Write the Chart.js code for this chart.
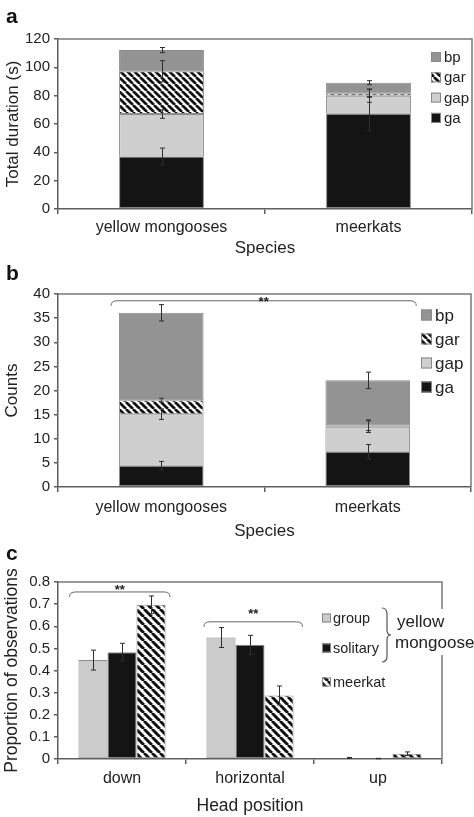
<!DOCTYPE html>
<html><head><meta charset="utf-8">
<script src="https://cdn.jsdelivr.net/npm/chart.js@4.4.1/dist/chart.umd.min.js"></script>
<style>
html,body{margin:0;padding:0;background:#fff;width:474px;height:817px;overflow:hidden}
canvas{position:absolute;left:0}
</style></head><body>
<canvas id="ca" width="474" height="262" style="top:0px"></canvas>
<canvas id="cb" width="474" height="283" style="top:262px"></canvas>
<canvas id="cc" width="474" height="272" style="top:545px"></canvas>
<script>
// ---------- data ----------
const species = ['yellow mongooses', 'meerkats'];
const seriesNames = ['ga', 'gap', 'gar', 'bp'];

// panel a: total duration (s)
const durGa  = [37.0, 67.3];
const durGap = [30.0, 12.7];
const durGar = [30.2, 1.7];
const durBp  = [15.0, 7.5];
const durGaErr  = [6.0, 12.0];
const durGapErr = [3.0, 4.7];
const durGarErr = [7.5, 2.8];
const durBpErr  = [1.8, 1.4];
const durTicks = [0, 20, 40, 60, 80, 100, 120];

// panel b: counts
const cntGa  = [4.4, 7.3];
const cntGap = [10.7, 5.2];
const cntGar = [2.9, 0.3];
const cntBp  = [18.1, 9.3];
const cntGaErr  = [0.9, 1.5];
const cntGapErr = [1.1, 1.2];
const cntGarErr = [0.4, 1.1];
const cntBpErr  = [1.7, 1.7];
const cntTicks = [0, 5, 10, 15, 20, 25, 30, 35, 40];

// panel c: proportion of observations
const headPos = ['down', 'horizontal', 'up'];
const groupNames = ['group', 'solitary', 'meerkat'];
const propGroup    = [0.447, 0.549, 0.005];
const propSolitary = [0.483, 0.516, 0.002];
const propMeerkat  = [0.697, 0.287, 0.024];
const propGroupErr    = [0.045, 0.045, 0.002];
const propSolitaryErr = [0.040, 0.043, 0.001];
const propMeerkatErr  = [0.040, 0.043, 0.008];
const propTicks = [0, 0.1, 0.2, 0.3, 0.4, 0.5, 0.6, 0.7, 0.8];

// ---------- styling ----------
const FONT = "'Liberation Sans', Arial, Helvetica, sans-serif";
Chart.defaults.font.family = FONT;
Chart.defaults.color = '#222';
const AX = '#5e5e5e';
const C_BP = '#939393', C_GAP = '#cfcfcf', C_GA = '#141414';

function hatch(s, lw) {
  const c = document.createElement('canvas');
  c.width = c.height = s;
  const g = c.getContext('2d');
  g.fillStyle = '#fff'; g.fillRect(0, 0, s, s);
  g.strokeStyle = '#111'; g.lineWidth = lw;
  g.beginPath();
  for (let k = -1; k <= 1; k++) { g.moveTo(k * s, 0); g.lineTo(k * s + s, s); }
  g.stroke();
  return c.getContext('2d').createPattern(c, 'repeat');
}
const HATCH = hatch(7, 2.7);
const HATCH_C = hatch(8, 3.0);

function errorBars(errs) {
  return { id: 'eb', afterDatasetsDraw(chart) {
    const ctx = chart.ctx, y = chart.scales.y;
    ctx.save(); ctx.strokeStyle = '#2e2e2e'; ctx.lineWidth = 1;
    errs.forEach((arr, di) => {
      const meta = chart.getDatasetMeta(di);
      meta.data.forEach((bar, j) => {
        const e = arr[j]; if (!e) return;
        const dp = y.getPixelForValue(0) - y.getPixelForValue(e);
        const x = Math.round(bar.x) + 0.5, t = bar.y - dp, b = bar.y + dp;
        ctx.beginPath();
        ctx.moveTo(x, t); ctx.lineTo(x, b);
        ctx.moveTo(x - 2.5, t); ctx.lineTo(x + 2.5, t);
        ctx.moveTo(x - 2.5, b); ctx.lineTo(x + 2.5, b);
        ctx.stroke();
      });
    });
    ctx.restore();
  }};
}

const frame = { id: 'frame', beforeDatasetsDraw(chart) {
  const { ctx, chartArea: a } = chart;
  ctx.save(); ctx.strokeStyle = '#7a7a7a'; ctx.lineWidth = 1.5;
  ctx.beginPath(); ctx.moveTo(a.left, a.top); ctx.lineTo(a.right, a.top); ctx.lineTo(a.right, a.bottom); ctx.stroke();
  ctx.restore();
}};

function panelLabel(txt, x, y) {
  return { id: 'pl', afterDraw(chart) {
    const ctx = chart.ctx; ctx.save();
    ctx.font = 'bold 21px ' + FONT; ctx.fillStyle = '#111'; ctx.textBaseline = 'alphabetic';
    ctx.fillText(txt, x, y); ctx.restore();
  }};
}

function bracket(ctx, x1, x2, y) {
  ctx.beginPath();
  ctx.moveTo(x1, y + 5);
  ctx.quadraticCurveTo(x1, y, x1 + 6, y);
  ctx.lineTo(x2 - 6, y);
  ctx.quadraticCurveTo(x2, y, x2, y + 5);
  ctx.stroke();
}

function legendBox(ctx, x, yc, size, fill, label, fontSize, gap) {
  ctx.fillStyle = fill; ctx.fillRect(x, yc - size / 2, size, size);
  ctx.strokeStyle = '#888'; ctx.lineWidth = 1;
  ctx.strokeRect(x + 0.5, yc - size / 2 + 0.5, size - 1, size - 1);
  ctx.fillStyle = '#222'; ctx.font = fontSize + 'px ' + FONT;
  ctx.textBaseline = 'middle'; ctx.fillText(label, x + size + gap, yc + 1);
}

function xScale(opts) {
  return Object.assign({
    offset: true,
    grid: { offset: true, display: true, drawOnChartArea: false, drawTicks: true, tickLength: 5, color: AX, lineWidth: 1.5 },
    border: { display: true, color: AX, width: 1.5 },
    ticks: { font: { size: 16 }, padding: 4, color: '#222' },
  }, opts);
}
function yScale(ticksArr, opts) {
  return Object.assign({
    min: ticksArr[0], max: ticksArr[ticksArr.length - 1],
    afterBuildTicks: s => { s.ticks = ticksArr.map(v => ({ value: v })); },
    grid: { drawOnChartArea: false, drawTicks: true, tickLength: 4, color: AX, lineWidth: 1.5 },
    border: { display: true, color: AX, width: 1.5 },
    ticks: { font: { size: 15 }, padding: 4, color: '#222', callback: v => String(v) },
    afterFit: s => { s.width = 58; }
  }, opts);
}
const common = { responsive: false, animation: false, events: [], plugins: { legend: { display: false }, tooltip: { enabled: false } } };

function stackDatasets(ga, gap, gar, bp) {
  const mk = (label, data, bg) => ({ label, data, backgroundColor: bg, borderColor: '#8a8a8a', borderWidth: 1, borderSkipped: false, categoryPercentage: 0.41, barPercentage: 1 });
  return [mk(seriesNames[0], ga, C_GA), mk(seriesNames[1], gap, C_GAP), mk(seriesNames[2], gar, HATCH), mk(seriesNames[3], bp, C_BP)];
}

// ---------- panel a ----------
new Chart(document.getElementById('ca'), {
  type: 'bar',
  data: { labels: species, datasets: stackDatasets(durGa, durGap, durGar, durBp) },
  options: Object.assign({}, common, {
    layout: { padding: { top: 39, right: 2, left: 0, bottom: 0 } },
    scales: {
      x: xScale({ stacked: true, title: { display: true, text: 'Species', font: { size: 17 }, padding: { top: 0, bottom: 3 } }, afterFit: s => { s.height = 53; } }),
      y: yScale(durTicks, { stacked: true, title: { display: true, text: 'Total duration (s)', font: { size: 17 }, padding: { top: 3, bottom: 0 } } })
    }
  }),
  plugins: [frame, errorBars([durGaErr, durGapErr, durGarErr, durBpErr]), panelLabel('a', 6, 23), { id: 'lega', afterDraw(chart) {
    const ctx = chart.ctx, a = chart.chartArea; ctx.save();
    const fills = [C_BP, HATCH, C_GAP, C_GA], names = [seriesNames[3], seriesNames[2], seriesNames[1], seriesNames[0]];
    names.forEach((n, i) => legendBox(ctx, a.right - 41, a.top + 18 + i * 20.3, 10, fills[i], n, 15, 3));
    ctx.restore();
  }}]
});

// ---------- panel b ----------
new Chart(document.getElementById('cb'), {
  type: 'bar',
  data: { labels: species, datasets: stackDatasets(cntGa, cntGap, cntGar, cntBp) },
  options: Object.assign({}, common, {
    layout: { padding: { top: 32, right: 3, left: 0, bottom: 0 } },
    scales: {
      x: xScale({ stacked: true, ticks: { font: { size: 16 }, padding: 6, color: '#222' }, title: { display: true, text: 'Species', font: { size: 17 }, padding: { top: 0, bottom: 3 } }, afterFit: s => { s.height = 58; } }),
      y: yScale(cntTicks, { stacked: true, title: { display: true, text: 'Counts', font: { size: 17 }, padding: { top: 2, bottom: 0 } } })
    }
  }),
  plugins: [frame, errorBars([cntGaErr, cntGapErr, cntGarErr, cntBpErr]), panelLabel('b', 6, 18), { id: 'legb', afterDraw(chart) {
    const ctx = chart.ctx, a = chart.chartArea, xs = chart.scales.x, ys = chart.scales.y; ctx.save();
    const fills = [C_BP, HATCH, C_GAP, C_GA], names = [seriesNames[3], seriesNames[2], seriesNames[1], seriesNames[0]];
    names.forEach((n, i) => legendBox(ctx, a.right - 50, a.top + 21 + i * 24, 11, fills[i], n, 17, 3));
    // significance bracket between species
    const cw = xs.getPixelForValue(1) - xs.getPixelForValue(0);
    const x1 = xs.getPixelForValue(0) - 0.243 * cw, x2 = xs.getPixelForValue(1) + 0.235 * cw, yb = ys.getPixelForValue(38.6);
    ctx.strokeStyle = '#666'; ctx.lineWidth = 1; bracket(ctx, x1, x2, yb);
    ctx.fillStyle = '#222'; ctx.font = 'bold 13px ' + FONT; ctx.textAlign = 'center'; ctx.textBaseline = 'alphabetic';
    ctx.fillText('**', (x1 + x2) / 2, yb + 5);
    ctx.restore();
  }}]
});

// ---------- panel c ----------
const cDatasets = [
  { label: groupNames[0], data: propGroup, backgroundColor: '#cbcbcb' },
  { label: groupNames[1], data: propSolitary, backgroundColor: '#141414' },
  { label: groupNames[2], data: propMeerkat, backgroundColor: HATCH_C }
].map(d => Object.assign(d, { borderColor: '#8a8a8a', borderWidth: 1, borderSkipped: false, categoryPercentage: 0.68, barPercentage: 1 }));

new Chart(document.getElementById('cc'), {
  type: 'bar',
  data: { labels: headPos, datasets: cDatasets },
  options: Object.assign({}, common, {
    layout: { padding: { top: 37, right: 32, left: 0, bottom: 0 } },
    scales: {
      x: xScale({ ticks: { font: { size: 16 }, padding: 5, color: '#222' }, title: { display: true, text: 'Head position', font: { size: 17.5 }, padding: { top: 0, bottom: 0 } }, afterFit: s => { s.height = 58; } }),
      y: yScale(propTicks, { title: { display: true, text: 'Proportion of observations', font: { size: 17.5 }, padding: { top: 2, bottom: 0 } } })
    }
  }),
  plugins: [frame, errorBars([propGroupErr, propSolitaryErr, propMeerkatErr]), panelLabel('c', 6, 15), { id: 'legc', afterDraw(chart) {
    const ctx = chart.ctx, a = chart.chartArea, xs = chart.scales.x, ys = chart.scales.y; ctx.save();
    // brackets
    const cw = xs.getPixelForValue(1) - xs.getPixelForValue(0);
    ctx.strokeStyle = '#666'; ctx.lineWidth = 1;
    const br = [[0, -0.41, 0.375, 0.755, 0.777], [1, -0.36, 0.41, 0.62, 0.668]];
    br.forEach(([ci, l, r, yv, sv]) => {
      const c = xs.getPixelForValue(ci);
      bracket(ctx, c + l * cw, c + r * cw, ys.getPixelForValue(yv));
      ctx.fillStyle = '#222'; ctx.font = 'bold 13px ' + FONT; ctx.textAlign = 'center'; ctx.textBaseline = 'alphabetic';
      ctx.fillText('**', c + (l + r) / 2 * cw, ys.getPixelForValue(sv) + 7);
    });
    ctx.textAlign = 'left';
    // legend
    const fills = ['#cbcbcb', '#141414', HATCH_C];
    const yc = [a.top + 36, a.top + 66, a.top + 100];
    groupNames.forEach((n, i) => legendBox(ctx, a.right - 120, yc[i], 9, fills[i], n, 14.5, 2));
    // white box over frame + brace + label
    ctx.fillStyle = '#fff'; ctx.fillRect(a.right - 48, a.top + 27, 80, 46);
    ctx.strokeStyle = '#555'; ctx.lineWidth = 1.2;
    const bx = a.right - 57, t = a.top + 26, b = a.top + 80, m = (t + b) / 2;
    ctx.beginPath();
    ctx.moveTo(bx - 3, t); ctx.quadraticCurveTo(bx + 2, t, bx + 2, t + 6);
    ctx.lineTo(bx + 2, m - 5); ctx.quadraticCurveTo(bx + 2, m, bx + 6, m);
    ctx.quadraticCurveTo(bx + 2, m, bx + 2, m + 5);
    ctx.lineTo(bx + 2, b - 6); ctx.quadraticCurveTo(bx + 2, b, bx - 3, b);
    ctx.stroke();
    ctx.fillStyle = '#222'; ctx.font = '17px ' + FONT; ctx.textBaseline = 'alphabetic';
    ctx.fillText('yellow', a.right - 45, a.top + 45);
    ctx.fillText('mongoose', a.right - 47, a.top + 66);
    ctx.restore();
  }}]
});
</script>
</body></html>
